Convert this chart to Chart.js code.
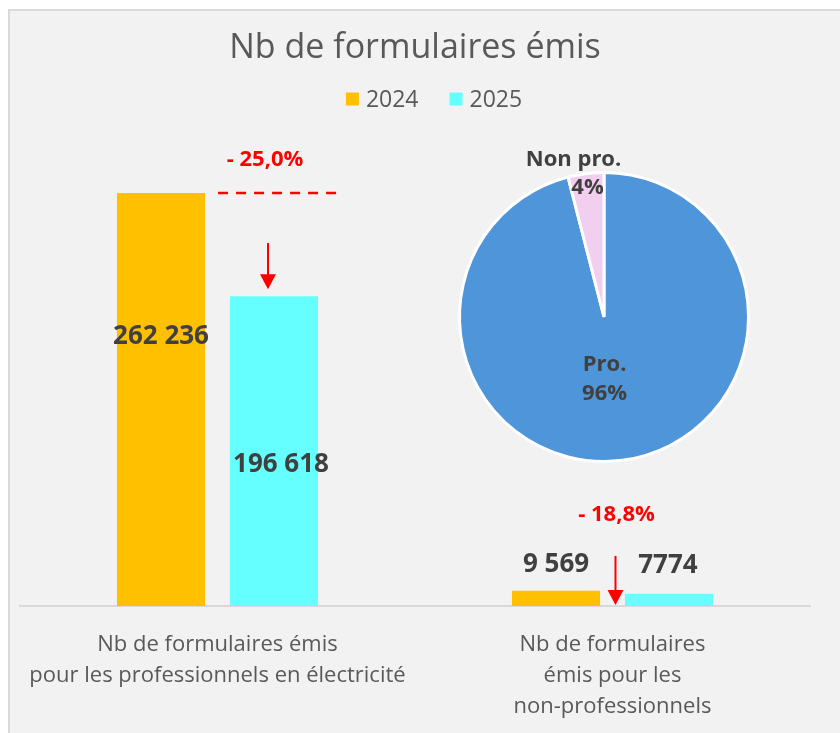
<!DOCTYPE html>
<html lang="fr">
<head>
<meta charset="utf-8">
<title>Nb de formulaires émis</title>
<script src="https://cdn.jsdelivr.net/npm/chart.js@4.4.1/dist/chart.umd.min.js"></script>
<style>
    html, body { margin: 0; padding: 0; background: #ffffff; overflow: hidden; }
    #panel { position: absolute; left: 8px; top: 9px; width: 850px; height: 740px; background: #f2f2f2; border: 2px solid #dadada; }
    #barCanvas { position: absolute; left: 0; top: 0; }
    #pieCanvas { position: absolute; left: 444px; top: 140px; }
</style>
</head>
<body>
<div id="panel"></div>
<canvas id="barCanvas" width="840" height="745"></canvas>
<canvas id="pieCanvas" width="320" height="340"></canvas>
<script>
// Nombre de formulaires par catégorie de demandeur
const categories = [
    ['Nb de formulaires émis', 'pour les professionnels en électricité'],
    ['Nb de formulaires', 'émis pour les', 'non-professionnels']
];
const years = ['2024', '2025'];
const values2024 = [262236, 9569];
const values2025 = [196618, 7774];
const labels2024 = ['262 236', '9 569'];
const labels2025 = ['196 618', '7774'];

// Répartition pro / non pro
const pieLabels = ['Pro.', 'Non pro.'];
const pieShares = [96, 4];

const TEXT_GREY = '#595959';
const LABEL_DARK = '#404040';
const RED = '#ff0000';
const FONT = "'Open Sans', 'Liberation Sans', sans-serif";

Chart.defaults.font.family = FONT;

// position des étiquettes de valeur, par série puis par catégorie (dx, dy depuis le haut de la barre)
const valueLabelOffsets = [
    [{ dx: 0, dy: 144 }, { dx: 0, dy: -26 }],
    [{ dx: 7, dy: 168 }, { dx: -1, dy: -28 }]
];

const formatChange = (from, to) => {
    const pct = (to - from) / from * 100;
    const sign = pct < 0 ? '- ' : '+ ';
    return sign + Math.abs(pct).toFixed(1).replace('.', ',') + '%';
};

const drawArrow = (ctx, x, yStart, yEnd) => {
    ctx.save();
    ctx.strokeStyle = RED;
    ctx.fillStyle = RED;
    ctx.lineWidth = 2;
    ctx.beginPath();
    ctx.moveTo(x, yStart);
    ctx.lineTo(x, yEnd - 12);
    ctx.stroke();
    ctx.beginPath();
    ctx.moveTo(x - 8, yEnd - 15);
    ctx.lineTo(x + 8, yEnd - 15);
    ctx.lineTo(x, yEnd);
    ctx.closePath();
    ctx.fill();
    ctx.restore();
};

// légende maison : carrés de couleur + année, un peu décalée à droite du titre
const yearLegend = {
    id: 'yearLegend',
    afterDraw(chart) {
        const { ctx } = chart;
        const box = 13, gap = 7, spacing = 31, centerX = 434, y = 99;
        ctx.save();
        ctx.font = `23px ${FONT}`;
        ctx.textBaseline = 'middle';
        const items = chart.data.datasets.map(ds => ({
            text: ds.label,
            color: ds.backgroundColor,
            w: box + gap + ctx.measureText(ds.label).width
        }));
        const total = items.reduce((s, it) => s + it.w, 0) + spacing * (items.length - 1);
        let x = centerX - total / 2;
        items.forEach(it => {
            ctx.fillStyle = it.color;
            ctx.fillRect(x, y - box / 2, box, box);
            ctx.fillStyle = TEXT_GREY;
            ctx.fillText(it.text, x + box + gap, y + 1);
            x += it.w + spacing;
        });
        ctx.restore();
    }
};

const barValueLabels = {
    id: 'barValueLabels',
    afterDatasetsDraw(chart) {
        const { ctx } = chart;
        const texts = [labels2024, labels2025];
        ctx.save();
        ctx.font = `bold 26px ${FONT}`;
        ctx.fillStyle = LABEL_DARK;
        ctx.textAlign = 'center';
        ctx.textBaseline = 'middle';
        chart.data.datasets.forEach((ds, i) => {
            chart.getDatasetMeta(i).data.forEach((bar, j) => {
                const off = valueLabelOffsets[i][j];
                ctx.fillText(texts[i][j], bar.x + off.dx, bar.y + off.dy);
            });
        });
        ctx.restore();
    }
};

const changeMarks = {
    id: 'changeMarks',
    afterDatasetsDraw(chart) {
        const { ctx } = chart;
        const bars24 = chart.getDatasetMeta(0).data;
        const bars25 = chart.getDatasetMeta(1).data;
        const base = chart.scales.y.getPixelForValue(0);

        ctx.save();
        ctx.font = `bold 22px ${FONT}`;
        ctx.fillStyle = RED;
        ctx.textAlign = 'center';
        ctx.textBaseline = 'middle';

        // grandes barres : pointillé au niveau 2024 + flèche vers 2025
        let a = bars24[0], b = bars25[0];
        ctx.fillText(formatChange(values2024[0], values2025[0]), b.x - 9, a.y - 33);
        ctx.strokeStyle = RED;
        ctx.lineWidth = 2.5;
        ctx.setLineDash([10, 8]);
        ctx.beginPath();
        ctx.moveTo(a.x + a.width / 2 + 13, a.y);
        ctx.lineTo(b.x + b.width / 2 + 20, a.y);
        ctx.stroke();
        ctx.setLineDash([]);
        drawArrow(ctx, b.x - 6, a.y + 50, b.y - 7);

        // petites barres : flèche entre les deux
        a = bars24[1]; b = bars25[1];
        const mid = (a.x + b.x) / 2;
        ctx.fillText(formatChange(values2024[1], values2025[1]), mid + 4, a.y - 76);
        drawArrow(ctx, mid + 3, a.y - 35, base - 1);
        ctx.restore();
    }
};

new Chart(document.getElementById('barCanvas'), {
    type: 'bar',
    data: {
        labels: categories,
        datasets: [
            {
                label: years[0],
                data: values2024,
                backgroundColor: '#ffc000',
                borderWidth: 0,
                barPercentage: 0.78,
                categoryPercentage: 0.572
            },
            {
                label: years[1],
                data: values2025,
                backgroundColor: '#66ffff',
                borderWidth: 0,
                barPercentage: 0.78,
                categoryPercentage: 0.572
            }
        ]
    },
    options: {
        responsive: false,
        animation: false,
        layout: { padding: { left: 20, right: 30, top: 20, bottom: 0 } },
        plugins: {
            title: {
                display: true,
                text: 'Nb de formulaires émis',
                color: TEXT_GREY,
                font: { size: 34, weight: 'normal', lineHeight: 1.0 },
                padding: { top: 11, bottom: 56 }
            },
            legend: { display: false },
            tooltip: { enabled: false }
        },
        scales: {
            x: {
                grid: { display: false, drawTicks: false },
                border: { display: true, color: '#d9d9d9', width: 2 },
                ticks: {
                    color: TEXT_GREY,
                    font: { size: 22, lineHeight: 1.41 },
                    padding: 23,
                    maxRotation: 0,
                    autoSkip: false
                }
            },
            y: { display: false, min: 0, max: 308000 }
        }
    },
    plugins: [changeMarks, barValueLabels, yearLegend]
});

const pieLabelsPlugin = {
    id: 'pieLabelsPlugin',
    afterDatasetsDraw(chart) {
        const { ctx } = chart;
        const arcs = chart.getDatasetMeta(0).data;
        ctx.save();
        ctx.font = `bold 22px ${FONT}`;
        ctx.fillStyle = LABEL_DARK;
        ctx.textAlign = 'center';
        ctx.textBaseline = 'middle';
        arcs.forEach((arc, i) => {
            const angle = (arc.startAngle + arc.endAngle) / 2;
            const big = pieShares[i] > 50;
            const r = arc.outerRadius * (big ? 0.42 : 0.91);
            const x = arc.x + Math.cos(angle) * r;
            const y = arc.y + Math.sin(angle) * r;
            const pct = pieShares[i] + '%';
            if (big) {
                ctx.fillText(pieLabels[i], x - 7, y - 12);
                ctx.fillText(pct, x - 7, y + 17);
            } else {
                ctx.fillText(pieLabels[i], x - 14, y - 27);
                ctx.fillText(pct, x, y + 1);
            }
        });
        ctx.restore();
    }
};

new Chart(document.getElementById('pieCanvas'), {
    type: 'pie',
    data: {
        labels: pieLabels,
        datasets: [{
            data: pieShares,
            backgroundColor: ['#4e95d9', '#f2ceef'],
            borderColor: '#ffffff',
            borderWidth: 3
        }]
    },
    options: {
        responsive: false,
        animation: false,
        layout: { padding: { left: 14, right: 14, top: 31, bottom: 17 } },
        plugins: { legend: { display: false }, tooltip: { enabled: false } }
    },
    plugins: [pieLabelsPlugin]
});
</script>
</body>
</html>
